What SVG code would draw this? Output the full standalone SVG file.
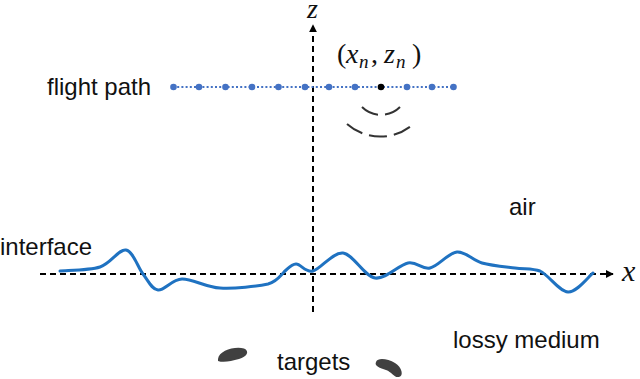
<svg xmlns="http://www.w3.org/2000/svg" width="640" height="379" viewBox="0 0 640 379">
<defs>
<style>
.lbl{font-family:"Liberation Sans",Arial,sans-serif;font-size:24px;fill:#111}
.math{font-family:"Liberation Serif","Times New Roman",serif;font-style:italic;fill:#111}
.mr{font-family:"Liberation Serif","Times New Roman",serif;fill:#111}
.axis{stroke:#000;stroke-width:2;stroke-dasharray:6 4;fill:none}
.wave{stroke:#333;stroke-width:2;fill:none;stroke-dasharray:18 7}
.pt{fill:#4472C4}
</style>
<marker id="ah" viewBox="0 0 10 10" refX="9" refY="5" markerWidth="8" markerHeight="8" markerUnits="userSpaceOnUse" orient="auto">
<path d="M0,0 L10,5 L0,10 Z" fill="#000"/>
</marker>
</defs>
<g id="connectors">
<line class="axis" x1="40" y1="274" x2="613" y2="274" marker-end="url(#ah)"/>
<line class="axis" x1="313" y1="312" x2="313" y2="25" marker-end="url(#ah)"/>
</g>
<g id="interface-curve">
<path d="M60,271 C66.7,270.3 89,270.5 100,267 C111,263.5 118.8,248.8 126,250 C133.2,251.2 137.7,267.3 143,274 C148.3,280.7 151.5,289.2 158,290 C164.5,290.8 171.7,279.3 182,279 C192.3,278.7 205.7,287.2 220,288 C234.3,288.8 257.3,286.5 268,284 C277,281.5 280,276 284,272 C288.7,268 291.2,264.3 296,264 C300.8,263.7 305.2,272.8 313,271 C320.8,269.2 332.7,251.8 343,253 C353.3,254.2 364.2,276.3 375,278 C385.8,279.7 398.8,264.7 408,263 C417.2,261.3 421.8,269.8 430,268 C438.2,266.2 448.3,252.8 457,252 C465.7,251.2 472.3,260.3 482,263 C491.7,265.7 505.3,266.8 515,268 C524.7,269.2 533,268.5 540,271 C548.8,275 559.2,291.5 568,292 C576.8,292.5 588.8,276.2 593,273" fill="none" stroke="#1F72C1" stroke-width="3" stroke-linecap="round"/>
</g>
<g id="flight-path">
<line x1="173" y1="87" x2="454" y2="87" stroke="#4472C4" stroke-width="2.2" stroke-dasharray="2 2.2"/>
<circle class="pt" cx="173.5" cy="87" r="3.3"/>
<circle class="pt" cx="199" cy="87" r="3.3"/>
<circle class="pt" cx="225.5" cy="87" r="3.3"/>
<circle class="pt" cx="252" cy="87" r="3.3"/>
<circle class="pt" cx="278.5" cy="87" r="3.3"/>
<circle class="pt" cx="305" cy="87" r="3.3"/>
<circle class="pt" cx="329" cy="87" r="3.3"/>
<circle class="pt" cx="355" cy="87" r="3.3"/>
<circle cx="381" cy="87" r="3.3" fill="#000"/>
<circle class="pt" cx="407" cy="87" r="3.3"/>
<circle class="pt" cx="432" cy="87" r="3.3"/>
<circle class="pt" cx="453.5" cy="87" r="3.3"/>
</g>
<g id="waves">
<path class="wave" d="M362,107 A27,27 0 0 0 400,107"/>
<path class="wave" d="M347,124 A50,50 0 0 0 411,126" stroke-dasharray="1 6 18 7 18 7 30"/>
</g>
<g id="targets">
<path d="M218,359 C219,351 234,346 244,348.5 C250,351 247,357 239,359 C231,361 224,363 218,361 Z" fill="#404040"/>
<path d="M376,362 C378,357 388,359 395,363 C402,367 404,376 399,377 C394,378 392,372 386,370 C380,368 374,366 376,362 Z" fill="#404040"/>
</g>
<g id="labels">
<text class="lbl" x="47" y="95">flight path</text>
<text class="lbl" x="0" y="255">interface</text>
<text class="lbl" x="509" y="215">air</text>
<text class="lbl" x="453" y="348">lossy medium</text>
<text class="lbl" x="277" y="370">targets</text>
<text class="math" x="307" y="18" font-size="28">z</text>
<text class="math" x="622" y="281" font-size="30">x</text>
<text class="mr" x="337" y="63" font-size="28">(</text>
<text class="math" x="346" y="63" font-size="28">x</text>
<text class="math" x="359" y="68" font-size="19">n</text>
<text class="mr" x="371" y="63" font-size="28">,</text>
<text class="math" x="384" y="63" font-size="28">z</text>
<text class="math" x="396" y="68" font-size="19">n</text>
<text class="mr" x="412" y="63" font-size="28">)</text>
</g>
</svg>
